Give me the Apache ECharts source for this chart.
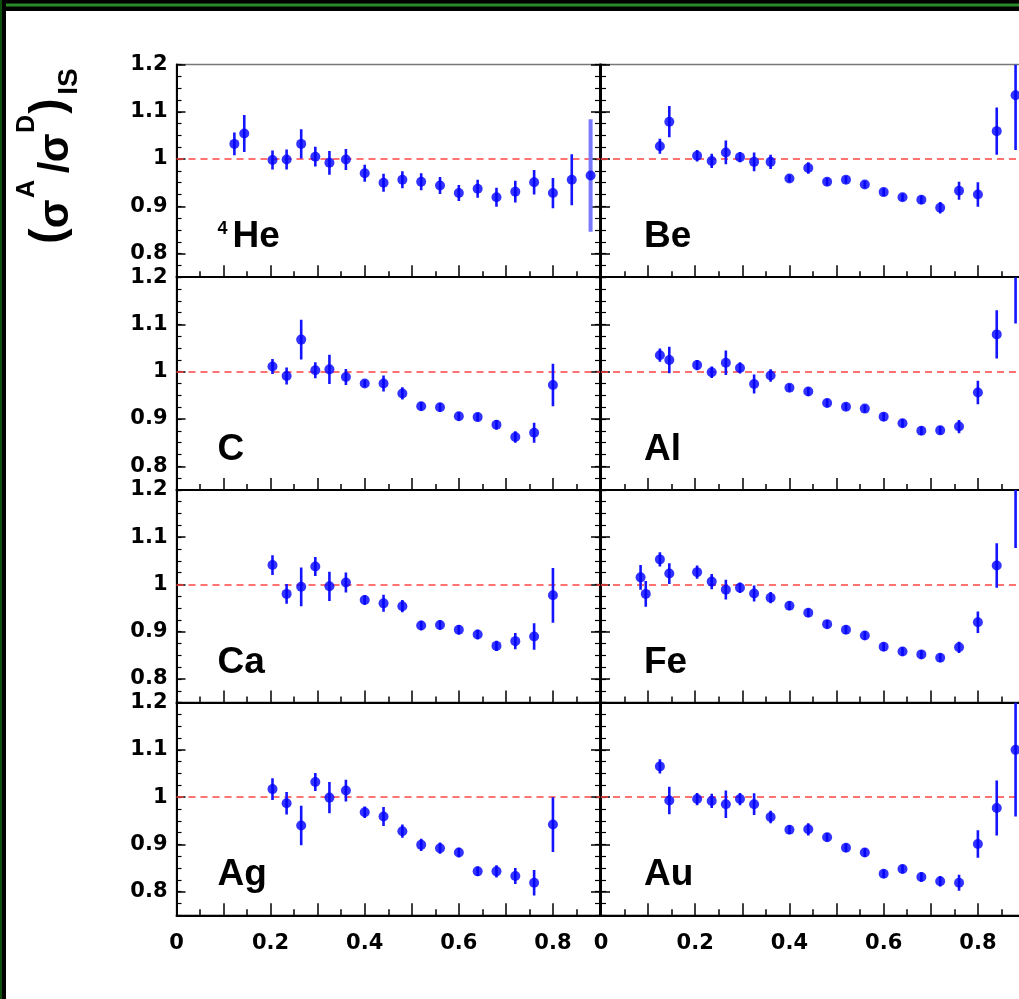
<!DOCTYPE html>
<html><head><meta charset="utf-8">
<script src="https://cdn.jsdelivr.net/npm/echarts@6/dist/echarts.min.js"></script>
<style>html,body{margin:0;padding:0;background:#fff;} #c{width:1019px;height:999px;}</style>
</head><body><div id="c"></div>
<script>
// ---------- data ----------
const PANEL_NAMES = ['He', 'Be', 'C', 'Al', 'Ca', 'Fe', 'Ag', 'Au'];
const Y_TICKS = [0.8, 0.9, 1, 1.1, 1.2];
const Y_TICK_LABELS = ['0.8', '0.9', '1', '1.1', '1.2'];
const X_TICKS = [0, 0.2, 0.4, 0.6, 0.8];
const X_TICK_LABELS = ['0', '0.2', '0.4', '0.6', '0.8'];
const Y_MIN = 0.75, Y_MAX = 1.2, X_MIN = 0, X_MAX = 0.9;
const REF_LINE = 1;

const heX = [0.123,0.144,0.204,0.234,0.265,0.295,0.325,0.36,0.40,0.44,0.48,0.52,0.56,0.60,0.64,0.68,0.72,0.76,0.80,0.84,0.88];
const heY = [1.032,1.054,0.998,0.999,1.032,1.005,0.992,0.999,0.970,0.950,0.956,0.952,0.944,0.928,0.937,0.919,0.931,0.951,0.928,0.956,0.965];
const heErr = [0.024,0.039,0.020,0.021,0.031,0.021,0.025,0.022,0.018,0.019,0.018,0.018,0.018,0.017,0.019,0.020,0.023,0.026,0.032,0.054,0.119];

const beX = [0.125,0.145,0.204,0.235,0.265,0.295,0.325,0.36,0.40,0.44,0.48,0.52,0.56,0.60,0.64,0.68,0.72,0.76,0.80,0.84,0.88];
const beY = [1.027,1.079,1.007,0.996,1.014,1.004,0.994,0.994,0.959,0.981,0.952,0.956,0.946,0.930,0.919,0.914,0.897,0.933,0.925,1.059,1.135];
const beErr = [0.016,0.033,0.012,0.015,0.025,0.011,0.020,0.015,0.008,0.012,0.008,0.008,0.008,0.008,0.008,0.009,0.012,0.019,0.026,0.050,0.116];

const cX = [0.204,0.234,0.265,0.295,0.325,0.36,0.40,0.44,0.48,0.52,0.56,0.60,0.64,0.68,0.72,0.76,0.80];
const cY = [1.011,0.991,1.068,1.003,1.005,0.989,0.975,0.975,0.954,0.927,0.925,0.906,0.904,0.888,0.862,0.871,0.972];
const cErr = [0.016,0.018,0.042,0.017,0.031,0.017,0.008,0.017,0.013,0.009,0.009,0.009,0.009,0.010,0.012,0.021,0.045];

const alX = [0.125,0.145,0.204,0.235,0.265,0.295,0.325,0.36,0.40,0.44,0.48,0.52,0.56,0.60,0.64,0.68,0.72,0.76,0.80,0.84,0.88];
const alY = [1.035,1.025,1.014,0.999,1.019,1.008,0.974,0.992,0.966,0.958,0.934,0.926,0.922,0.905,0.891,0.875,0.876,0.884,0.956,1.079,1.220];
const alErr = [0.014,0.028,0.011,0.012,0.026,0.012,0.020,0.013,0.008,0.009,0.009,0.008,0.008,0.009,0.009,0.009,0.009,0.014,0.025,0.051,0.118];

const caX = [0.204,0.234,0.265,0.295,0.325,0.36,0.40,0.44,0.48,0.52,0.56,0.60,0.64,0.68,0.72,0.76,0.80];
const caY = [1.041,0.980,0.995,1.038,0.996,1.004,0.967,0.960,0.954,0.913,0.914,0.904,0.894,0.870,0.880,0.890,0.977];
const caErr = [0.021,0.021,0.041,0.020,0.031,0.021,0.010,0.018,0.013,0.010,0.010,0.010,0.010,0.011,0.017,0.028,0.058];

const feX = [0.084,0.095,0.125,0.145,0.204,0.235,0.265,0.295,0.325,0.36,0.40,0.44,0.48,0.52,0.56,0.60,0.64,0.68,0.72,0.76,0.80,0.84,0.88];
const feY = [1.015,0.980,1.053,1.023,1.026,1.006,0.989,0.993,0.981,0.972,0.955,0.940,0.916,0.904,0.892,0.868,0.858,0.852,0.845,0.867,0.920,1.040,1.210];
const feErr = [0.026,0.027,0.015,0.022,0.014,0.016,0.021,0.011,0.017,0.012,0.009,0.009,0.009,0.009,0.009,0.009,0.009,0.009,0.009,0.012,0.023,0.047,0.133];

const agX = [0.204,0.234,0.265,0.295,0.325,0.36,0.40,0.44,0.48,0.52,0.56,0.60,0.64,0.68,0.72,0.76,0.80];
const agY = [1.017,0.987,0.940,1.032,0.999,1.014,0.968,0.959,0.928,0.899,0.892,0.883,0.843,0.843,0.833,0.819,0.942];
const agErr = [0.023,0.024,0.042,0.019,0.033,0.023,0.012,0.020,0.014,0.013,0.012,0.010,0.010,0.013,0.017,0.027,0.058];

const auX = [0.125,0.145,0.204,0.235,0.265,0.295,0.325,0.36,0.40,0.44,0.48,0.52,0.56,0.60,0.64,0.68,0.72,0.76,0.80,0.84,0.88];
const auY = [1.065,0.993,0.996,0.992,0.985,0.996,0.985,0.958,0.931,0.932,0.915,0.893,0.883,0.838,0.848,0.831,0.822,0.819,0.901,0.977,1.100];
const auErr = [0.015,0.029,0.013,0.015,0.029,0.013,0.023,0.013,0.009,0.013,0.009,0.009,0.009,0.009,0.009,0.010,0.011,0.017,0.029,0.058,0.141];

// ---------- layout / style ----------
const COLS = [{left: 176.5, width: 423.5}, {left: 601, width: 424}];
const ROW_TOPS = [64.5, 277.2, 489.9, 702.6];
const ROW_H = 212.7;
const BLUE = '#0000ff';
const TICK_FONT = {fontFamily: 'DejaVu Sans', fontWeight: 'bold', fontSize: 21, color: '#000'};
const LABEL_FONT = '"Liberation Sans", Arial, Helvetica, sans-serif';

const panels = [
  {name: PANEL_NAMES[0], sup: '4', x: heX, y: heY, e: heErr, faded: [20]},
  {name: PANEL_NAMES[1], x: beX, y: beY, e: beErr},
  {name: PANEL_NAMES[2], x: cX, y: cY, e: cErr},
  {name: PANEL_NAMES[3], x: alX, y: alY, e: alErr},
  {name: PANEL_NAMES[4], x: caX, y: caY, e: caErr},
  {name: PANEL_NAMES[5], x: feX, y: feY, e: feErr},
  {name: PANEL_NAMES[6], x: agX, y: agY, e: agErr},
  {name: PANEL_NAMES[7], x: auX, y: auY, e: auErr}
];

function xfmt(v) {
  const k = X_TICKS.findIndex(t => Math.abs(t - v) < 1e-6);
  return k >= 0 ? X_TICK_LABELS[k] : '';
}
function yfmt(v) {
  const k = Y_TICKS.findIndex(t => Math.abs(t - v) < 1e-6);
  return k >= 0 ? Y_TICK_LABELS[k] : '';
}

const grid = [], xAxis = [], yAxis = [], series = [], graphic = [];

function addYAxes(i, pos, withLabels) {
  const major = yAxis.length;
  yAxis.push({
    gridIndex: i, type: 'value', position: pos, min: Y_MIN, max: Y_MAX,
    axisLine: {show: true, onZero: false, lineStyle: {color: '#000', width: 2}},
    axisTick: {show: true, inside: true, length: 9, customValues: Y_TICKS, lineStyle: {color: '#000', width: 1.5}},
    axisLabel: Object.assign({show: withLabels, customValues: Y_TICKS, formatter: yfmt, margin: 9, padding: [4, 0, 0, 0]}, TICK_FONT),
    splitLine: {show: false}
  });
  yAxis.push({
    gridIndex: i, type: 'value', position: pos, min: Y_MIN, max: Y_MAX, interval: 0.025,
    axisLine: {show: false, onZero: false},
    axisTick: {show: true, inside: true, length: 5, lineStyle: {color: '#000', width: 1.2}},
    axisLabel: {show: false},
    splitLine: {show: false}
  });
  return major;
}

panels.forEach((p, i) => {
  const row = Math.floor(i / 2), col = i % 2;
  const top = ROW_TOPS[row];
  grid.push({
    left: COLS[col].left, top: top, width: COLS[col].width, height: ROW_H,
    show: true, borderColor: '#777', borderWidth: 1.5, backgroundColor: 'transparent',
    containLabel: false, outerBoundsMode: 'none'
  });
  xAxis.push({
    gridIndex: i, type: 'value', position: 'bottom', min: X_MIN, max: X_MAX, interval: 0.1,
    axisLine: {show: true, onZero: false, lineStyle: {color: '#000', width: 2}},
    axisTick: {show: true, inside: true, length: 12, lineStyle: {color: '#000', width: 1.5}},
    minorTick: {show: true, splitNumber: 2, length: 6, lineStyle: {color: '#000', width: 1.5}},
    splitLine: {show: false}, minorSplitLine: {show: false},
    axisLabel: Object.assign({show: row === 3, margin: 18, formatter: xfmt}, TICK_FONT)
  });
  const yMajor = addYAxes(i, 'left', col === 0);
  if (col === 0) addYAxes(i, 'right', false);

  const faded = p.faded || [];
  series.push({
    type: 'custom', xAxisIndex: i, yAxisIndex: yMajor, z: 2, clip: true, silent: true,
    data: p.x.map((x, k) => [x, p.y[k], p.e[k]]),
    encode: {x: 0, y: 1},
    renderItem: function (params, api) {
      const x = api.value(0), y = api.value(1), e = api.value(2);
      const lo = Math.max(y - e, Y_MIN), hi = Math.min(y + e, Y_MAX);
      if (lo >= hi) return null;
      const a = api.coord([x, lo]), b = api.coord([x, hi]);
      const f = faded.indexOf(params.dataIndex) >= 0;
      return {
        type: 'line',
        shape: {x1: a[0], y1: a[1], x2: b[0], y2: b[1]},
        style: {stroke: f ? '#7878ff' : '#1414ff', lineWidth: f ? 4 : 2.6}
      };
    }
  });
  series.push({
    type: 'scatter', xAxisIndex: i, yAxisIndex: yMajor, z: 3, clip: true, silent: true,
    symbol: 'circle', symbolSize: 10,
    itemStyle: {color: BLUE},
    data: p.x.map((x, k) => [x, p.y[k]]),
    markLine: {
      silent: true, symbol: ['none', 'none'], label: {show: false}, z: 1,
      lineStyle: {color: '#ff4444', type: [7, 5], width: 1.6},
      data: [{yAxis: REF_LINE}]
    }
  });

  // panel label
  const lx = col === 0 ? 217.5 : 644;
  const base = top + 184;
  if (p.sup) {
    graphic.push({type: 'text', x: lx, y: base - 13.5 - 0.31 * 18, style: {
      text: p.sup, font: 'bold 18px ' + LABEL_FONT, fill: '#000', align: 'left', verticalAlign: 'middle'}});
    graphic.push({type: 'text', x: lx + 15, y: base - 0.31 * 37, style: {
      text: p.name, font: 'bold 37px ' + LABEL_FONT, fill: '#000', align: 'left', verticalAlign: 'middle'}});
  } else {
    graphic.push({type: 'text', x: lx, y: base - 0.31 * 37, style: {
      text: p.name, font: 'bold 37px ' + LABEL_FONT, fill: '#000', align: 'left', verticalAlign: 'middle'}});
  }
});

// y-axis title (rotated, reading bottom to top)
const titleParts = [
  {t: '(', fs: 46, base: 64, cy: 236},
  {t: 'σ', fs: 42, base: 69, cy: 214},
  {t: 'A', fs: 25, base: 35, cy: 189},
  {t: '/', fs: 42, base: 69, cy: 167.5},
  {t: 'σ', fs: 42, base: 69, cy: 148},
  {t: 'D', fs: 25, base: 35, cy: 124},
  {t: ')', fs: 46, base: 64, cy: 106},
  {t: 'IS', fs: 28, base: 78, cy: 81.5}
];
graphic.push({
  type: 'group', x: 0, y: 0, rotation: Math.PI / 2, silent: true,
  children: titleParts.map(q => ({
    type: 'text', x: -q.cy, y: q.base - 0.31 * q.fs,
    style: {text: q.t, font: 'bold ' + q.fs + 'px ' + LABEL_FONT, fill: '#000', align: 'center', verticalAlign: 'middle'}
  }))
});

// outer frame
graphic.push({type: 'rect', shape: {x: 0, y: 0, width: 1019, height: 11}, style: {fill: '#000'}, silent: true});
graphic.push({type: 'rect', shape: {x: 0, y: 3.5, width: 1019, height: 3}, style: {fill: '#2a8a2a'}, silent: true});
graphic.push({type: 'rect', shape: {x: 0, y: 0, width: 6, height: 999}, style: {fill: '#000'}, silent: true});
graphic.push({type: 'rect', shape: {x: 0, y: 0, width: 2, height: 999}, style: {fill: '#0e4f0e'}, silent: true});

const chart = echarts.init(document.getElementById('c'), null, {renderer: 'canvas', width: 1019, height: 999});
chart.setOption({
  backgroundColor: '#fff',
  animation: false,
  grid: grid, xAxis: xAxis, yAxis: yAxis, series: series, graphic: graphic
});
</script>
</body></html>
